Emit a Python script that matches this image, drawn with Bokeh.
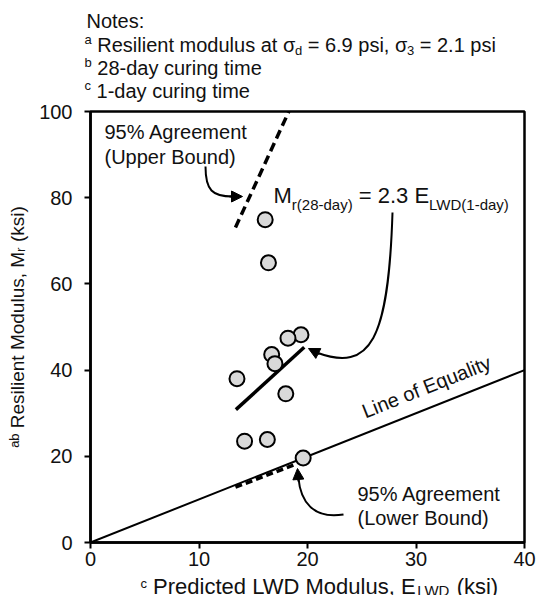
from bokeh.plotting import figure
from bokeh.models import Label, Arrow, NormalHead, Range1d
from bokeh.layouts import column
from bokeh.embed import file_html
from bokeh.resources import INLINE
import math

# ---- data -------------------------------------------------------------
# LWD modulus after 1-day curing (ksi) and resilient modulus after 28 days (ksi)
lwd_1day = [16.1, 16.4, 19.4, 18.2, 16.7, 17.0, 13.5, 18.0, 14.2, 16.3, 19.6]
mr_28day = [74.9, 64.9, 48.2, 47.4, 43.6, 41.5, 38.0, 34.5, 23.5, 23.9, 19.6]

fit_slope = 2.3            # Mr(28-day) = 2.3 E_LWD(1-day)
fit_x = [13.4, 19.7]
upper_slope = 5.47         # 95% agreement, upper bound
upper_x = [13.36, 18.28]
lower_slope = 0.96         # 95% agreement, lower bound
lower_x = [13.36, 19.0]
equality_x = [0, 40]

x_ticks = [0, 10, 20, 30, 40]
y_ticks = [0, 20, 40, 60, 80, 100]

# ---- page geometry (pixels) ------------------------------------------
W, H = 536, 595
NOTES_H = 102          # strip holding the notes
XTITLE_TOP = 575       # strip holding the horizontal axis title starts here
FL, FR, FT, FB = 90, 524, 111, 542   # plot frame on the page
XMIN, XMAX, YMIN, YMAX = 0, 40, 0, 100
FONT = "Liberation Sans"
INK = "#111111"
BASE_RAISE = 0.35      # anchor offset that puts Label text on its baseline


def dx(px):
    return XMIN + (px - FL) / (FR - FL) * (XMAX - XMIN)


def dy(py):
    return YMIN + (FB - py) / (FB - FT) * (YMAX - YMIN)


def ident(v):
    return v


def no_frame_align(fig):
    # keep each figure's own borders inside the column layout
    if "frame_align" in fig.properties():
        fig.frame_align = False


def text_strip(x0, x1, y0, y1):
    """A bare figure whose frame spans page pixels x0..x1, y0..y1 (y downwards)."""
    f = figure(width=x1 - x0, height=y1 - y0, x_range=Range1d(x0, x1),
               y_range=Range1d(y1, y0), x_axis_type=None, y_axis_type=None,
               output_backend="svg", toolbar_location=None, min_border=0)
    f.outline_line_color = None
    f.background_fill_color = "white"
    f.border_fill_color = "white"
    no_frame_align(f)
    return f


# ---- main plot ----------------------------------------------------------
p = figure(width=W, height=XTITLE_TOP - NOTES_H,
           x_range=(XMIN, XMAX), y_range=(YMIN, YMAX),
           output_backend="svg", toolbar_location=None,
           min_border_left=FL, min_border_right=W - FR,
           min_border_top=FT - NOTES_H, min_border_bottom=XTITLE_TOP - FB)
no_frame_align(p)
p.background_fill_color = "white"
p.border_fill_color = "white"
p.outline_line_color = "black"
p.outline_line_width = 2.5
p.xgrid.visible = False
p.ygrid.visible = False

for ax, ticks, standoff in ((p.xaxis, x_ticks, 3), (p.yaxis, y_ticks, 12)):
    ax.ticker = ticks
    ax.axis_line_width = 2.5
    ax.axis_line_color = "black"
    ax.major_tick_line_width = 2
    ax.major_tick_line_color = "black"
    ax.major_tick_out = 6
    ax.major_tick_in = 0
    ax.minor_tick_line_color = None
    ax.major_label_text_font = FONT
    ax.major_label_text_font_size = "20px"
    ax.major_label_text_color = INK
    ax.major_label_standoff = standoff

p.yaxis.axis_label = "ᵃᵇ Resilient Modulus, Mᵣ (ksi)"
p.yaxis.axis_label_text_font = FONT
p.yaxis.axis_label_text_font_size = "19px"
p.yaxis.axis_label_text_font_style = "normal"
p.yaxis.axis_label_text_color = INK
p.yaxis.axis_label_standoff = 8

p.line(equality_x, [v for v in equality_x], line_color="black", line_width=2)
p.line(fit_x, [fit_slope * v for v in fit_x], line_color="black", line_width=3.5)
p.line(upper_x, [upper_slope * v for v in upper_x], line_color="black",
       line_width=3.5, line_dash="9 5")
p.line(lower_x, [lower_slope * v for v in lower_x], line_color="black",
       line_width=3.5, line_dash="7 4")

p.scatter(lwd_1day, mr_28day, size=15, fill_color="#d9d9d9",
          line_color="black", line_width=2)

# ---- rich text ------------------------------------------------------------
ADV = {" ": 278, "(": 333, ")": 333, ",": 278, "-": 333, ".": 278, ":": 278,
       "=": 584, "%": 889, "σ": 600,
       "A": 667, "B": 667, "C": 722, "D": 722, "E": 667, "L": 556, "M": 833,
       "N": 722, "P": 667, "R": 722, "U": 722, "W": 944,
       "a": 556, "b": 556, "c": 500, "d": 556, "e": 556, "f": 278, "g": 556,
       "h": 556, "i": 222, "k": 500, "l": 222, "m": 833, "n": 556, "o": 556,
       "p": 556, "q": 556, "r": 333, "s": 500, "t": 278, "u": 556, "v": 500,
       "w": 722, "y": 500}


def text_width(s, size):
    return sum(ADV.get(c, 556) for c in s) * size / 1000.0


def rich(fig, tx, ty, pieces, px, py, angle=0.0):
    """Draw (text, size, raise) pieces one after another along a baseline
    that starts at page pixel (px, py) and runs at the given angle."""
    ax_, ay_ = math.cos(angle), -math.sin(angle)      # along the baseline
    ux, uy = -math.sin(angle), -math.cos(angle)       # towards glyph tops
    pos = 0.0
    for text, size, shift in pieces:
        body = text.lstrip(" ")
        pos += text_width(text[:len(text) - len(body)], size)
        up = shift + BASE_RAISE * size
        x = px + pos * ax_ + up * ux
        y = py + pos * ay_ + up * uy
        fig.add_layout(Label(x=tx(x), y=ty(y), text=body, angle=angle,
                             text_font=FONT, text_font_size=f"{size}px",
                             text_color=INK, text_align="left",
                             text_baseline="alphabetic"))
        pos += text_width(body, size)


# notes above the plot
notes = text_strip(0, W, 0, NOTES_H)
rich(notes, ident, ident, [("Notes:", 20, 0)], 86, 27)
rich(notes, ident, ident,
     [("a", 13, 7), (" Resilient modulus at σ", 20, 0), ("d", 13, -4),
      (" = 6.9 psi, σ", 20, 0), ("3", 13, -4), (" = 2.1 psi", 20, 0)], 84, 51)
rich(notes, ident, ident, [("b", 13, 7), (" 28-day curing time", 20, 0)], 84, 74)
rich(notes, ident, ident, [("c", 13, 7), (" 1-day curing time", 20, 0)], 84, 97)

# horizontal axis title
xtitle = text_strip(0, W, XTITLE_TOP, H)
rich(xtitle, ident, ident,
     [("c", 13, 6), (" Predicted LWD Modulus, E", 22, 0), ("LWD", 15, -1),
      (" (ksi)", 22, 0)], 140, 594)

# annotations inside the frame
rich(p, dx, dy, [("95% Agreement", 20, 0)], 104, 138)
rich(p, dx, dy, [("(Upper Bound)", 20, 0)], 104, 163)
rich(p, dx, dy, [("95% Agreement", 20, 0)], 357, 500)
rich(p, dx, dy, [("(Lower Bound)", 20, 0)], 357, 524)
rich(p, dx, dy, [("M", 22, 0), ("r(28-day)", 15, -6), (" = 2.3 E", 22, 0),
                 ("LWD(1-day)", 15, -6)], 273, 203)

eq_angle = math.atan(((FB - FT) / (YMAX - YMIN)) / ((FR - FL) / (XMAX - XMIN)))
rich(p, dx, dy, [("Line of Equality", 20, 0)], 365, 418, angle=eq_angle)


# curved callout arrows
def callout(p0, c0, c1, p1, tail, tip):
    p.bezier(x0=[dx(p0[0])], y0=[dy(p0[1])], x1=[dx(p1[0])], y1=[dy(p1[1])],
             cx0=[dx(c0[0])], cy0=[dy(c0[1])], cx1=[dx(c1[0])], cy1=[dy(c1[1])],
             line_color="black", line_width=2)
    p.add_layout(Arrow(end=NormalHead(size=11, fill_color="black",
                                      line_color="black", line_width=1),
                       x_start=dx(tail[0]), y_start=dy(tail[1]),
                       x_end=dx(tip[0]), y_end=dy(tip[1]),
                       line_color="black", line_width=2))


callout((205, 166), (205, 190), (212, 196), (232, 196), (229, 196), (242, 196))
callout((392, 212), (388, 340), (370, 372), (316, 352), (319, 353.6), (308, 348))
callout((343, 514), (312, 519), (300, 500), (298, 478), (298, 481), (297, 468))

page = column(notes, p, xtitle, spacing=0)
open("out.html", "w").write(file_html(page, INLINE))
